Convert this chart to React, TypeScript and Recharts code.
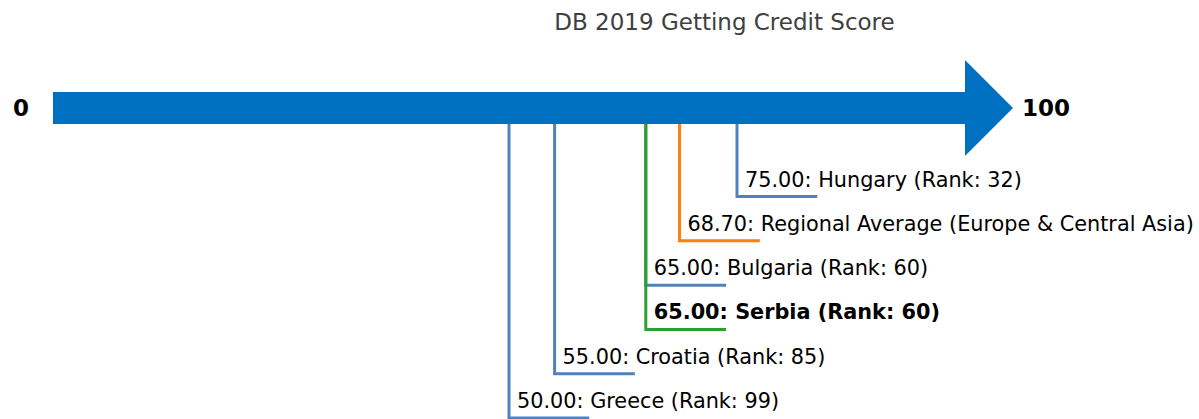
import React from "react";
import { ComposedChart, Line, Scatter, XAxis, YAxis } from "recharts";

// scores on the 0..100 scale, drawn top to bottom
const countries = ["Hungary", "Regional Average (Europe & Central Asia)", "Bulgaria", "Serbia", "Croatia", "Greece"];
const scores = [75.0, 68.7, 65.0, 65.0, 55.0, 50.0];
const ranks: (number | null)[] = [32, null, 60, 60, 85, 99];
const levels = [1, 2, 3, 4, 5, 6];
const colors = ["#4f81bd", "#ff7f0e", "#4f81bd", "#2ca02c", "#4f81bd", "#4f81bd"];
const bold = [false, false, false, true, false, false];

const AXIS_MIN = 0;
const AXIS_MAX = 100;
const AXIS_LEVEL = -1;
const TICK_LEN = 8.8; // length of the foot of each leader line, in score units

const FONT = "'DejaVu Sans', sans-serif";

const labelData = countries.map((name, i) => ({
  x: scores[i],
  y: levels[i],
  text:
    ranks[i] === null
      ? `${scores[i].toFixed(2)}: ${name}`
      : `${scores[i].toFixed(2)}: ${name} (Rank: ${ranks[i]})`,
  bold: bold[i],
}));

const leaderData = countries.map((_, i) => [
  { x: scores[i], y: AXIS_LEVEL },
  { x: scores[i], y: levels[i] },
  { x: scores[i] + TICK_LEN, y: levels[i] },
]);

const arrowData = [
  { x: AXIS_MIN, y: AXIS_LEVEL },
  { x: AXIS_MAX, y: AXIS_LEVEL },
];

const endLabels = [
  { x: AXIS_MIN, y: AXIS_LEVEL, text: String(AXIS_MIN), side: "left" },
  { x: AXIS_MAX, y: AXIS_LEVEL, text: String(AXIS_MAX), side: "right" },
];

const LabelShape = (props: any) => {
  const { cx, cy, payload } = props;
  return (
    <text
      x={cx + 8}
      y={cy - 17}
      dominantBaseline="central"
      fontFamily={FONT}
      fontSize={20.8}
      fontWeight={payload.bold ? "bold" : "normal"}
      fill="#000"
    >
      {payload.text}
    </text>
  );
};

const HeadShape = (props: any) => {
  const { cx, cy } = props;
  return (
    <polygon
      points={`${cx},${cy - 48} ${cx + 48},${cy} ${cx},${cy + 48}`}
      fill="#0070c0"
    />
  );
};

const EndLabelShape = (props: any) => {
  const { cx, cy, payload } = props;
  const left = payload.side === "left";
  return (
    <text
      x={left ? cx - 24 : cx + 57}
      y={cy}
      dominantBaseline="central"
      textAnchor={left ? "end" : "start"}
      fontFamily={FONT}
      fontSize={23}
      fontWeight="bold"
      fill="#000"
    >
      {payload.text}
    </text>
  );
};

export default function App() {
  return (
    <div style={{ position: "absolute", left: 0, top: 0, width: 1199, height: 419, background: "#fff" }}>
      <div
        style={{
          position: "absolute",
          left: 0,
          width: 1449,
          top: 8,
          textAlign: "center",
          fontFamily: FONT,
          fontSize: 23,
          color: "#404040",
          lineHeight: "28px",
        }}
      >
        DB 2019 Getting Credit Score
      </div>
      <ComposedChart width={1199} height={419} margin={{ top: 108, right: 234, bottom: 1, left: 53 }}>
        <XAxis type="number" dataKey="x" domain={[AXIS_MIN, AXIS_MAX]} hide />
        <YAxis type="number" dataKey="y" domain={[AXIS_LEVEL, 6]} reversed hide />
        {leaderData.map((d, i) => (
          <Line
            key={countries[i]}
            data={d}
            dataKey="y"
            stroke={colors[i]}
            strokeWidth={3}
            dot={false}
            activeDot={false}
            type="linear"
            isAnimationActive={false}
          />
        ))}
        <Line
          data={arrowData}
          dataKey="y"
          stroke="#0070c0"
          strokeWidth={32}
          strokeLinecap="butt"
          dot={false}
          activeDot={false}
          isAnimationActive={false}
        />
        <Scatter data={[arrowData[1]]} dataKey="y" shape={HeadShape} isAnimationActive={false} />
        <Scatter data={endLabels} dataKey="y" shape={EndLabelShape} isAnimationActive={false} />
        <Scatter data={labelData} dataKey="y" shape={LabelShape} isAnimationActive={false} />
      </ComposedChart>
    </div>
  );
}
